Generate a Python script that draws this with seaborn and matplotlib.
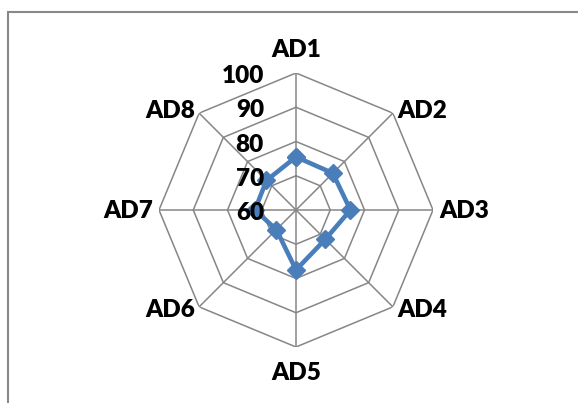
import numpy as np
import pandas as pd
import matplotlib
matplotlib.use("Agg")
import matplotlib.pyplot as plt
import matplotlib.patches as mpatches
import seaborn as sns

categories = ["AD1", "AD2", "AD3", "AD4", "AD5", "AD6", "AD7", "AD8"]
values = [75.5, 75.2, 75.9, 72.1, 77.5, 68.1, 72.0, 72.2]
ring_levels = [60, 70, 80, 90, 100]
ring_labels = ["60", "70", "80", "90", "100"]

sns.set_style("white")
plt.rcParams["font.family"] = ["Lato", "DejaVu Sans"]
FS = 17.5
FW = 800

W, H = 578, 403
fig = plt.figure(figsize=(W / 100, H / 100), dpi=100)
fig.patch.set_facecolor("white")

cx, cy, R = 296, 210, 137
ax = fig.add_axes([(cx - R) / W, (H - cy - R) / H, 2 * R / W, 2 * R / H], projection="polar")
ax.set_theta_zero_location("N")
ax.set_theta_direction(-1)
ax.set_ylim(ring_levels[0], ring_levels[-1])
ax.grid(False)
ax.spines["polar"].set_visible(False)
ax.patch.set_alpha(0)

n = len(categories)
angles = [i * 2 * np.pi / n for i in range(n)]
grid_color = "#868686"

for v in ring_levels[1:]:
    ax.plot(angles + [angles[0] + 2 * np.pi], [v] * (n + 1), color=grid_color, lw=1.1, zorder=1)
for a in angles:
    ax.plot([a, a], [ring_levels[0], ring_levels[-1]], color=grid_color, lw=1.1, zorder=1)

df = pd.DataFrame({
    "theta": angles + [angles[0] + 2 * np.pi],
    "value": values + [values[0]],
})
sns.lineplot(data=df, x="theta", y="value", ax=ax, sort=False, estimator=None,
             color="#4A7EBB", lw=3.3, marker="D", markersize=9.5, markeredgewidth=1,
             markeredgecolor="#4A7EBB", zorder=3)
ax.set_xlabel("")
ax.set_ylabel("")
ax.set_ylim(ring_levels[0], ring_levels[-1])
ax.set_xticks([])
ax.set_yticks([])

label_style = {
    "AD1": (0, 16, "center"),
    "AD2": (4, -5, "left"),
    "AD3": (6, -8, "left"),
    "AD4": (4, -10, "left"),
    "AD5": (0, -33, "center"),
    "AD6": (-4, -10, "right"),
    "AD7": (-6, -8, "right"),
    "AD8": (-4, -5, "right"),
}
for a, c in zip(angles, categories):
    dx, dy, ha = label_style[c]
    ax.annotate(c, xy=(a, ring_levels[-1]), xytext=(dx, dy), textcoords="offset pixels",
                ha=ha, va="baseline", fontsize=FS, fontweight=FW, color="black",
                annotation_clip=False, zorder=5)

for v, t in zip(ring_levels, ring_labels):
    ax.annotate(t, xy=(0, v), xytext=(-32, -10), textcoords="offset pixels",
                ha="right", va="baseline", fontsize=FS, fontweight=FW, color="black",
                annotation_clip=False, zorder=5)

border = mpatches.Rectangle((7.5 / W, -0.1), 1.2, (H - 11.5) / H + 0.1,
                            transform=fig.transFigure, fill=False,
                            edgecolor="#888888", lw=1.5, zorder=0)
fig.patches.append(border)

fig.savefig("out.png", dpi=100, facecolor="white")
